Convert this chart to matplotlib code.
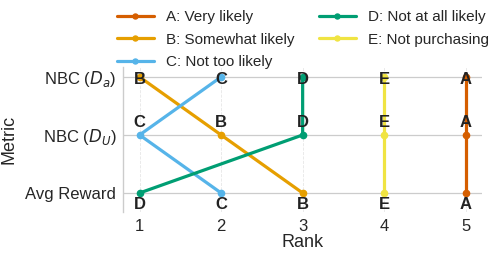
import numpy as np
import matplotlib.pyplot as plt
import seaborn as sns

sns.set_style("whitegrid")
plt.rcParams['font.family'] = ['Liberation Sans', 'DejaVu Sans']

# metrics from bottom to top
metrics = ['Avg Reward', r'NBC ($D_U$)', r'NBC ($D_a$)']
groups = ['A', 'B', 'C', 'D', 'E']
labels = ['A: Very likely', 'B: Somewhat likely', 'C: Not too likely',
          'D: Not at all likely', 'E: Not purchasing']
colors = ['#D55E00', '#E69F00', '#56B4E9', '#009E73', '#F0E442']
# rank of each group for Avg Reward, NBC (D_U), NBC (D_a)
ranks = {
    'A': [5, 5, 5],
    'B': [3, 2, 1],
    'C': [2, 1, 2],
    'D': [1, 3, 3],
    'E': [4, 4, 4],
}

fig, ax = plt.subplots(figsize=(4.99, 2.58), dpi=100)
fig.subplots_adjust(left=0.247, right=0.966, top=0.74, bottom=0.18)

ypos = np.arange(len(metrics))
for g, lab, c in zip(groups, labels, colors):
    ax.plot(ranks[g], ypos, color=c, lw=2.3, marker='o', ms=4.5, label=lab)

# letter annotations
offsets = [(-8, 'center'), (9, 'center'), (-1.5, 'center')]
for g in groups:
    for r, y, (dy, va) in zip(ranks[g], ypos, offsets):
        ax.annotate(g, (r, y), xytext=(0, dy), textcoords='offset points',
                    ha='center', va=va, fontsize=12, fontweight='bold',
                    color='#222222', zorder=5)

ax.set_xlim(0.8, 5.2)
ax.set_ylim(-0.32, 2.17)
ax.set_xticks([1, 2, 3, 4, 5])
ax.set_yticks(ypos)
ax.set_yticklabels(metrics)
ax.tick_params(labelsize=12, colors='#262626', length=0, pad=5)
ax.set_xlabel('Rank', fontsize=13, color='#262626', labelpad=0)
ax.set_ylabel('Metric', fontsize=13, color='#262626', labelpad=6)

ax.xaxis.grid(True, ls='--', lw=0.6, color='#e6e6e6')
ax.yaxis.grid(True, ls='-', lw=0.9, color='#cccccc')
for s in ['top', 'right', 'bottom']:
    ax.spines[s].set_visible(False)
ax.spines['left'].set_color('#cccccc')
ax.spines['left'].set_linewidth(1.0)

fig.legend(loc='upper center', bbox_to_anchor=(0.607, 1.007), ncol=2,
           frameon=False, fontsize=11, handlelength=2.4, labelspacing=0.55,
           columnspacing=1.6, handletextpad=0.8, borderpad=0.3, markerscale=0.8)

plt.savefig('out.png', dpi=100)
